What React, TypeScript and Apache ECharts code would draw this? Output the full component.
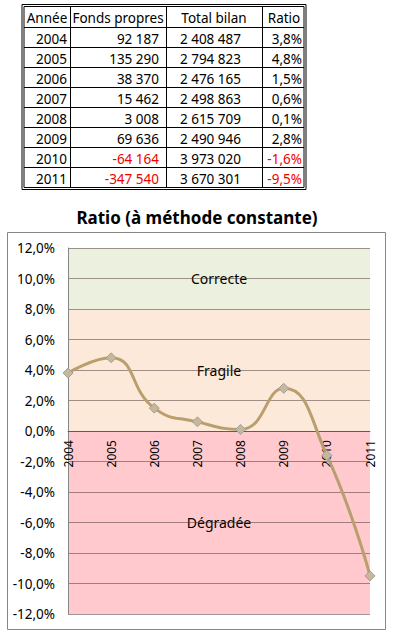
import React, { useEffect, useRef } from "react";
import * as echarts from "echarts";

const years = ["2004", "2005", "2006", "2007", "2008", "2009", "2010", "2011"];
const fondsPropres = [92187, 135290, 38370, 15462, 3008, 69636, -64164, -347540];
const totalBilan = [2408487, 2794823, 2476165, 2498863, 2615709, 2490946, 3973020, 3670301];
const ratio = [3.8, 4.8, 1.5, 0.6, 0.1, 2.8, -1.6, -9.5];
const headers = ["Année", "Fonds propres", "Total bilan", "Ratio"];
const bands = [
  { name: "Correcte", from: 8, to: 12, color: "#ebf1de" },
  { name: "Fragile", from: 0, to: 8, color: "#fde9d9" },
  { name: "Dégradée", from: -12, to: 0, color: "#ffc9ce" },
];

const FONT = "'Noto Sans', sans-serif";

function fmtInt(n: number): string {
  const s = Math.abs(n).toString().replace(/\B(?=(\d{3})+(?!\d))/g, " ");
  return (n < 0 ? "-" : "") + s;
}
function fmtPct(n: number): string {
  return n.toFixed(1).replace(".", ",") + "%";
}

export default function App() {
  const ref = useRef<HTMLDivElement>(null);
  useEffect(() => {
    if (!ref.current) return;
    const chart = echarts.init(ref.current, undefined, { renderer: "svg" });

    const graphics: any[] = [];
    graphics.push({ type: "rect", shape: { x: 22, y: 4.5, width: 284, height: 185 }, style: { fill: "none", stroke: "#000", lineWidth: 1 }, silent: true });
    graphics.push({ type: "rect", shape: { x: 24, y: 6.5, width: 280, height: 181 }, style: { fill: "none", stroke: "#000", lineWidth: 1 }, silent: true });
    for (let i = 0; i < years.length; i++) {
      const y = 27.5 + i * 20;
      graphics.push({ type: "line", shape: { x1: 24, y1: y, x2: 304, y2: y }, style: { stroke: "#000", lineWidth: 1 }, silent: true });
    }
    [70.5, 166.5, 262.5].forEach((x) => {
      graphics.push({ type: "line", shape: { x1: x, y1: 6.5, x2: x, y2: 187.5 }, style: { stroke: "#000", lineWidth: 1 }, silent: true });
    });
    const headerX = [47, 118, 214, 284];
    headers.forEach((h, i) => {
      graphics.push({ type: "text", x: headerX[i], y: 18, style: { text: h, fill: "#000", font: `13.5px ${FONT}`, textAlign: "center", textVerticalAlign: "middle" }, silent: true });
    });
    const colRight = [67, 159, 241, 302];
    years.forEach((yr, i) => {
      const cy = 38.5 + i * 20;
      const vals = [yr, fmtInt(fondsPropres[i]), fmtInt(totalBilan[i]), fmtPct(ratio[i])];
      const colors = ["#000", fondsPropres[i] < 0 ? "#f00000" : "#000", "#000", ratio[i] < 0 ? "#f00000" : "#000"];
      vals.forEach((v, j) => {
        graphics.push({ type: "text", x: colRight[j], y: cy, style: { text: v, fill: colors[j], font: `13.5px ${FONT}`, textAlign: "right", textVerticalAlign: "middle" }, silent: true });
      });
    });
    graphics.push({ type: "rect", shape: { x: 7.5, y: 232.5, width: 378, height: 397 }, style: { fill: "none", stroke: "#868686", lineWidth: 1 }, silent: true, z: -1 });

    chart.setOption({
      animation: false,
      title: {
        text: "Ratio (à méthode constante)",
        left: "center",
        top: 204,
        textStyle: { fontFamily: FONT, fontSize: 17, fontWeight: "bold", color: "#000" },
      },
      graphic: graphics,
      grid: { left: 68, right: 24, top: 248, bottom: 25 },
      xAxis: {
        type: "category",
        data: years,
        boundaryGap: false,
        z: 3,
        offset: -183,
        axisLine: { onZero: false, lineStyle: { color: "rgba(70,50,50,0.55)", width: 1 } },
        axisTick: { show: false },
        axisLabel: { rotate: 90, margin: 9, interval: 0, color: "#000", fontFamily: FONT, fontSize: 12 },
        splitLine: { show: false },
      },
      yAxis: {
        type: "value",
        min: -12,
        max: 12,
        interval: 2,
        z: 3,
        axisLine: { show: true, lineStyle: { color: "#868686", width: 1 } },
        axisTick: { show: false },
        axisLabel: { margin: 13, color: "#000", fontFamily: FONT, fontSize: 13.5, formatter: (v: number) => fmtPct(v) },
        splitLine: { show: true, lineStyle: { color: "rgba(70,50,50,0.5)", width: 1 } },
      },
      series: [
        {
          type: "line",
          data: [],
          z: 1,
          silent: true,
          markArea: {
            silent: true,
            z: 1,
            data: bands.map((b) => [
              {
                yAxis: b.from,
                itemStyle: { color: b.color },
                label: { show: true, position: "inside", formatter: b.name, color: "#000", fontFamily: FONT, fontSize: 14 },
              },
              { yAxis: b.to },
            ]),
          },
        },
        {
          type: "line",
          name: "Ratio",
          data: ratio,
          smooth: 0.5,
          z: 5,
          symbol: "diamond",
          symbolSize: 10,
          lineStyle: { color: "#b99e6e", width: 3 },
          itemStyle: { color: "#c8b899", borderColor: "#9f9f9f", borderWidth: 1 },
        },
      ],
    });
    return () => chart.dispose();
  }, []);
  return <div ref={ref} style={{ position: "fixed", left: 0, top: 0, width: 394, height: 639, background: "#fff" }} />;
}
